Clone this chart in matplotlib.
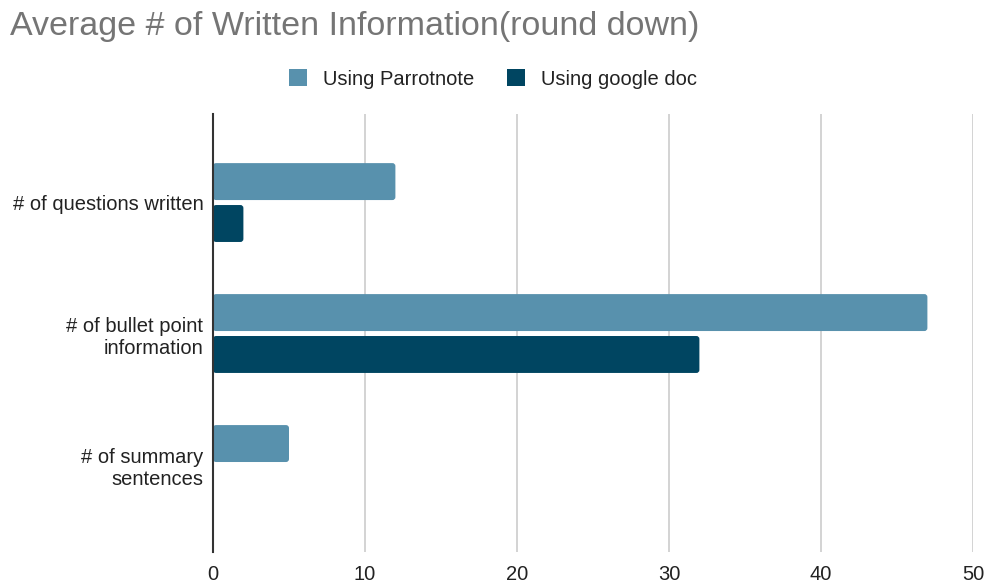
import matplotlib
matplotlib.use("Agg")
import matplotlib.pyplot as plt
from matplotlib.patches import FancyBboxPatch, Patch
import numpy as np

categories = ["# of questions written", "# of bullet point\ninformation", "# of summary\nsentences"]
parrotnote = [12, 47, 5]
google_doc = [2, 32, 0]
series_names = ["Using Parrotnote", "Using google doc"]
xticks = [0, 10, 20, 30, 40, 50]

c1 = "#5891ad"
c2 = "#004561"

plt.rcParams['font.family'] = ['Liberation Sans', 'DejaVu Sans']

fig = plt.figure(figsize=(9.87, 5.85), dpi=100)
W, H = 987, 585
top_px, bot_px = 114, 552
ax = fig.add_axes([213 / W, 1 - bot_px / H, (973 - 213) / W, (bot_px - top_px) / H])

y = np.arange(len(categories))
bh = 0.282
off = 0.16
b1 = ax.barh(y - off, parrotnote, height=bh, color=c1, label=series_names[0], zorder=3)
b2 = ax.barh(y + off, google_doc, height=bh, color=c2, label=series_names[1], zorder=3)

ylo, yhi = -0.676, 2.668
ax.set_xlim(0, 50)
ax.set_ylim(yhi, ylo)

# rounded corners
px_x = 760 / 50.0
px_y = (bot_px - top_px) / (yhi - ylo)
for bars in (b1, b2):
    for p in bars:
        w = p.get_width()
        p.set_visible(False)
        if w <= 0:
            continue
        x0, y0, h = p.get_x(), p.get_y(), p.get_height()
        fb = FancyBboxPatch((x0, y0), w, h,
                            boxstyle="round,pad=0,rounding_size=%f" % (3.0 / px_x),
                            mutation_aspect=px_x / px_y,
                            facecolor=p.get_facecolor(), edgecolor="none", zorder=3)
        ax.add_patch(fb)

ax.set_xticks(xticks)
ax.set_yticks(y)
ax.set_yticklabels(categories, fontsize=14.5, color="#222222", ha="right", linespacing=1.25)
ax.tick_params(axis='x', labelsize=14.5, colors="#222222", length=0, pad=9)
ax.tick_params(axis='y', length=0, pad=7)
ax.grid(axis='x', color="#cccccc", linewidth=1.2, zorder=0)
for s in ["top", "right", "bottom"]:
    ax.spines[s].set_visible(False)
ax.spines["left"].set_color("#333333")
ax.spines["left"].set_linewidth(1.5)
ax.spines["left"].set_zorder(4)

fig.text(10 / W, 1 - 27 / H, "Average # of Written Information(round down)", fontsize=24.5,
         color="#757575", va="center", ha="left")

handles = [Patch(facecolor=c1, edgecolor="none"), Patch(facecolor=c2, edgecolor="none")]
leg = fig.legend(handles=handles, labels=series_names, loc="center",
                 bbox_to_anchor=(493 / W, 1 - 79 / H), ncol=2, frameon=False,
                 fontsize=14.5, handlelength=0.9, handleheight=0.9, columnspacing=1.6,
                 handletextpad=0.8)
for t in leg.get_texts():
    t.set_color("#222222")

fig.savefig("out.png", dpi=100)
